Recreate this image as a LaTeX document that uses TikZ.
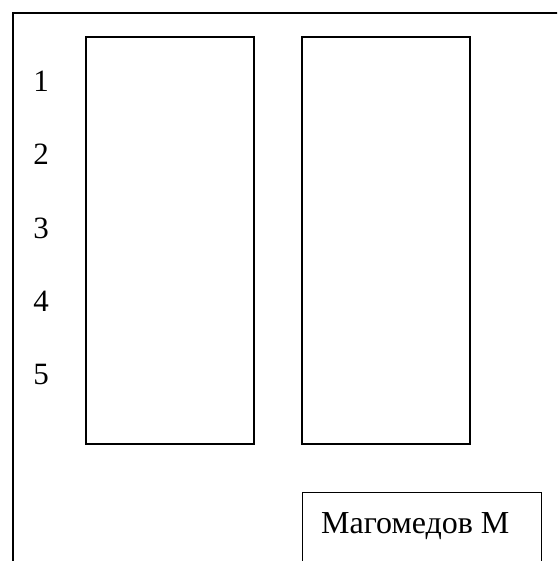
\documentclass[tikz,border=0pt]{standalone}
\usepackage{fontspec}
\setmainfont{Liberation Serif}
\usepackage{tikz}
\usetikzlibrary{positioning}

\begin{document}
\begin{tikzpicture}[x=1pt,y=-1pt,
        col/.style={draw,line width=1.6pt,minimum width=168pt,minimum height=407pt,
                    anchor=north west,inner sep=0pt},
        num/.style={anchor=base,font=\fontsize{31}{36}\selectfont},
        namebox/.style={draw,line width=1.3pt,minimum width=239pt,minimum height=120pt,
                    anchor=north west,inner sep=0pt}]
        \useasboundingbox (0,0) rectangle (557,561);
        \clip (0,0) rectangle (557,561);
        % page frame, only its top left corner shows
        \coordinate (frameTR) at (570,13);
        \coordinate (frameC) at (13,13);
        \coordinate (frameBL) at (13,575);
        \draw[line width=1.7pt] (frameTR) -- (frameC) -- (frameBL);
        % two columns
        \node[col] (colL) at (85,36) {};
        \node[col] (colR) at (301,36) {};
        \foreach \i in {1,...,5}{
          \node[num] (n\i) at (41,92+73*\i-73) {\i};
        }
        % name box at the bottom
        \node[namebox] (sign) at (302,492) {};
        \node[anchor=base west,inner sep=0pt,font=\fontsize{32}{38}\selectfont]
          (signtext) at (321,533) {Магомедов М};
      \end{tikzpicture}
\end{document}
